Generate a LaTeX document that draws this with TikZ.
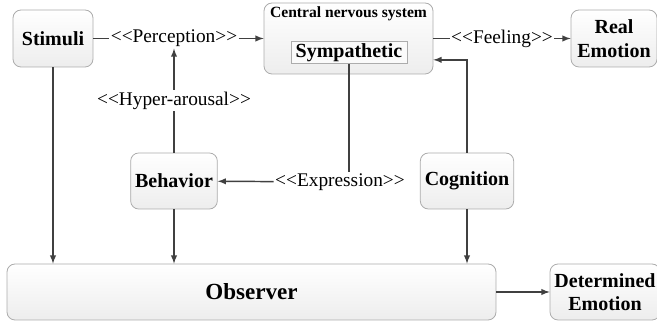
\documentclass[tikz,border=0pt]{standalone}
\usepackage{fontspec}
\setmainfont{Liberation Serif}
\tikzset{
  block/.style={draw=gray!65, line width=0.6pt, rounded corners=6pt,
    top color=white, bottom color=gray!14, align=center,
    font=\fontsize{15}{17.5}\selectfont\bfseries},
  inner/.style={draw=gray!65, line width=0.6pt, fill=white!96!gray,
    inner sep=1.5pt, font=\fontsize{15}{17.5}\selectfont\bfseries},
  lbl/.style={fill=white, inner sep=1pt, font=\fontsize{14.5}{17}\selectfont},
  arrow/.style={-latex, line width=1.1pt, draw=black!75}}
% angle brackets kept apart so they do not turn into guillemets
\newcommand{\stereo}[1]{{<}{<}#1{>}{>}}

\begin{document}
\begin{tikzpicture}[x=0.75pt, y=-0.75pt]
    \useasboundingbox (0,0) rectangle (657,323);
    % boxes
    \node[block, minimum width=60pt, minimum height=42.75pt] (stimuli) at (53,38.5) {Stimuli};
    \node[block, minimum width=126.75pt, minimum height=53.25pt] (cns) at (348.5,38.5) {};
    \node[font=\fontsize{11.7}{14}\selectfont\bfseries] (cnstitle) at (348.5,13.5) {Central nervous system};
    \node[inner, minimum width=87pt, minimum height=15.75pt] (symp) at (349,52.5) {Sympathetic};
    \node[block, minimum width=64.5pt, minimum height=42.75pt] (real) at (614,38.5) {Real\\Emotion};
    \node[block, minimum width=61.5pt, minimum height=42pt] (behavior) at (174,181) {Behavior};
    \node[block, minimum width=69pt, minimum height=42pt] (cognition) at (467,181) {Cognition};
    \node[block, minimum width=366.75pt, minimum height=42pt,
      font=\fontsize{17.3}{20}\selectfont\bfseries] (observer) at (251.5,292) {Observer};
    \node[block, minimum width=78pt, minimum height=42pt] (determined) at (605,292) {Determined\\Emotion};
    % labels sitting on the lines
    \node[lbl] (perc) at (174,38.5) {\stereo{Perception}};
    \node[lbl] (expr) at (340,182) {\stereo{Expression}};
    % connectors
    \draw[line width=1.1pt, draw=black!75] (stimuli) -- (perc);
    \draw[arrow] (perc) -- (cns);
    \draw[arrow] (behavior) -- node[lbl] {\stereo{Hyper-arousal}} (perc);
    \draw[arrow] (cns) -- node[lbl] {\stereo{Feeling}} (real);
    \draw[arrow] (cognition.north) |- ([yshift=-16pt]cns.east);
    \draw[line width=1.1pt, draw=black!75] (symp.south) -- (symp.south |- expr.north);
    \draw[arrow] (expr) -- (behavior);
    \draw[arrow] (stimuli) -- (stimuli |- observer.north);
    \draw[arrow] (behavior) -- (behavior |- observer.north);
    \draw[arrow] (cognition) -- (cognition |- observer.north);
    \draw[arrow] (observer) -- (determined);
\end{tikzpicture}
\end{document}
